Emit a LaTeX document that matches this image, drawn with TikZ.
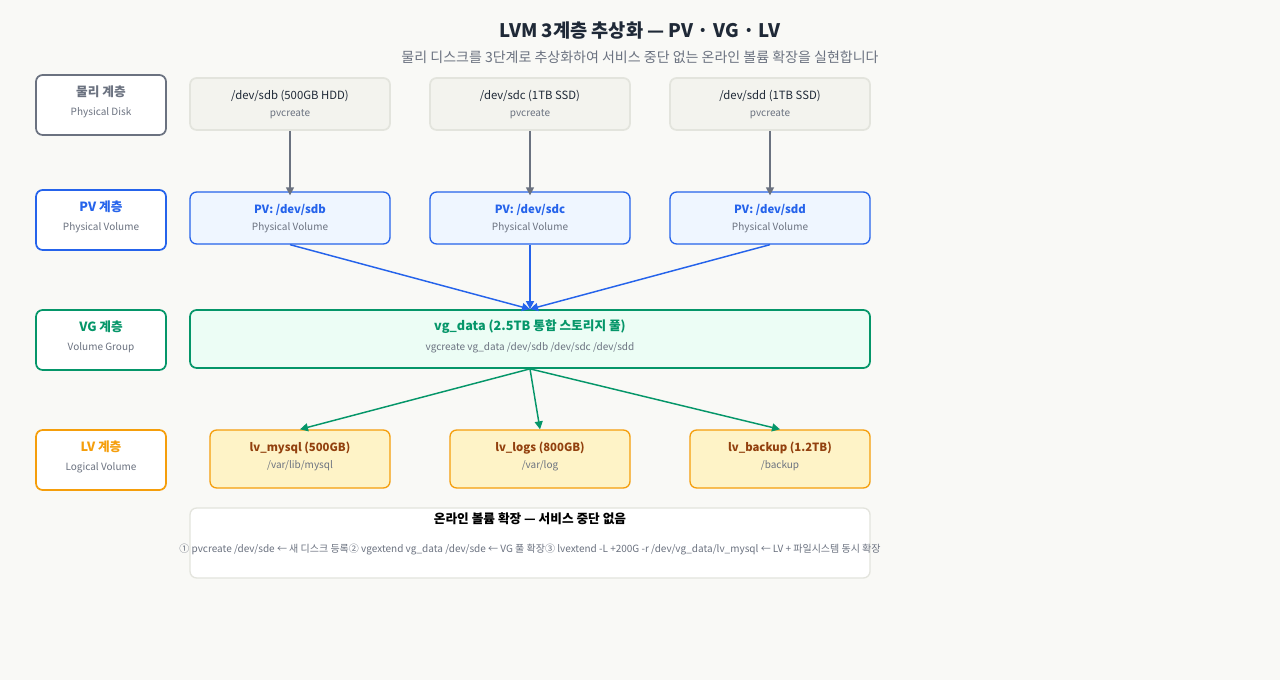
\documentclass[tikz,border=0pt]{standalone}
\usepackage{fontspec}
\setmainfont{Noto Sans CJK KR}
\usetikzlibrary{arrows.meta, positioning}

\definecolor{bgc}{HTML}{F9F9F6}
\definecolor{grayc}{HTML}{6B7280}
\definecolor{bluec}{HTML}{2563EB}
\definecolor{bluef}{HTML}{EFF6FF}
\definecolor{greenc}{HTML}{059669}
\definecolor{greenf}{HTML}{ECFDF5}
\definecolor{orangec}{HTML}{F59E0B}
\definecolor{orangef}{HTML}{FEF3C7}
\definecolor{oranget}{HTML}{92400E}
\definecolor{diskf}{HTML}{F3F3EE}
\definecolor{diskd}{HTML}{E3E4DD}
\definecolor{textc}{HTML}{1F2937}
\definecolor{subc}{HTML}{6B7280}

\tikzset{
  box/.style={rounded corners=5pt, line width=1.3pt, fill=white, align=center, inner sep=0pt},
  layer/.style={box, minimum width=97.5pt, minimum height=45pt},
  disk/.style={box, draw=diskd, fill=diskf, minimum width=150pt, minimum height=39pt},
  pv/.style={box, draw=bluec, fill=bluef, line width=1pt, minimum width=150pt, minimum height=39pt},
  lv/.style={box, draw=orangec, fill=orangef, line width=1pt, minimum width=135pt, minimum height=43.5pt},
  big/.style={font=\fontsize{9.5}{11}\selectfont\bfseries},
  small/.style={font=\fontsize{7.5}{9}\selectfont, text=subc},
  arr/.style={-{Triangle[length=6pt, width=6pt]}, line width=1.1pt},
}

\begin{document}
\begin{tikzpicture}[x=0.75pt, y=-0.75pt]
    \fill[bgc] (0,0) rectangle (1280,680);
    \useasboundingbox (0,0) rectangle (1280,680);

    % Titel
    \node[font=\fontsize{14}{16}\selectfont\bfseries, text=textc] (title) at (640,31) {LVM 3계층 추상화 — PV · VG · LV};
    \node[font=\fontsize{10.5}{12}\selectfont, text=subc] (subtitle) at (640,57) {물리 디스크를 3단계로 추상화하여 서비스 중단 없는 온라인 볼륨 확장을 실현합니다};

    % Ebenen links
    \node[layer, draw=grayc] (lphys) at (101,105) {};
    \node[big, text=grayc] at (101,92) {물리 계층};
    \node[small] at (101,113) {Physical Disk};
    \node[layer, draw=bluec] (lpv) at (101,220) {};
    \node[big, text=bluec] at (101,207) {PV 계층};
    \node[small] at (101,228) {Physical Volume};
    \node[layer, draw=greenc] (lvg) at (101,340) {};
    \node[big, text=greenc] at (101,327) {VG 계층};
    \node[small] at (101,348) {Volume Group};
    \node[layer, draw=orangec] (llv) at (101,460) {};
    \node[big, text=orangec] at (101,447) {LV 계층};
    \node[small] at (101,468) {Logical Volume};

    % Disks und PVs
    \foreach \name/\x/\label in {sdb/290/{/dev/sdb (500GB HDD)}, sdc/530/{/dev/sdc (1TB SSD)}, sdd/770/{/dev/sdd (1TB SSD)}} {
        \node[disk] (d\name) at (\x,104) {};
        \node[font=\fontsize{8.5}{10}\selectfont, text=textc] at (\x,96) {\label};
        \node[small] at (\x,114) {pvcreate};
        \node[pv] (p\name) at (\x,218) {};
        \node[font=\fontsize{8.5}{10}\selectfont\bfseries, text=bluec] at (\x,210) {PV: /dev/\name};
        \node[small] at (\x,228) {Physical Volume};
        \draw[arr, grayc] (d\name.south) -- ([yshift=-3pt]p\name.north);
    }

    % VG
    \node[box, draw=greenc, fill=greenf, minimum width=510pt, minimum height=43.5pt] (vg) at (530,339) {};
    \node[big, text=greenc] at (530,327) {vg\_data (2.5TB 통합 스토리지 풀)};
    \node[small] at (530,348) {vgcreate vg\_data /dev/sdb /dev/sdc /dev/sdd};
    \foreach \p in {psdb, psdc, psdd}
        \draw[arr, bluec] (\p.south) -- (vg.north);

    % LVs
    \foreach \name/\x/\label/\dir in {mysql/300/{lv\_mysql (500GB)}/{/var/lib/mysql}, logs/540/{lv\_logs (800GB)}/{/var/log}, backup/780/{lv\_backup (1.2TB)}/{/backup}} {
        \node[lv] (lv\name) at (\x,459) {};
        \node[font=\fontsize{8.5}{10}\selectfont\bfseries, text=oranget] at (\x,448) {\label};
        \node[small] at (\x,466) {\dir};
        \draw[arr, greenc] (vg.south) -- (lv\name.north);
    }

    % Online-Erweiterung
    \node[box, draw=diskd, line width=1pt, minimum width=510pt, minimum height=52.5pt] (ext) at (530,543) {};
    \node[big, text=black] at (530,519) {온라인 볼륨 확장 — 서비스 중단 없음};
    \node[small, font=\fontsize{7.5}{9.5}\selectfont, text=subc] at (530,550) {① pvcreate /dev/sde ← 새 디스크 등록\\② vgextend vg\_data /dev/sde ← VG 풀 확장\\③ lvextend -L +200G -r /dev/vg\_data/lv\_mysql ← LV + 파일시스템 동시 확장};
\end{tikzpicture}
\end{document}
